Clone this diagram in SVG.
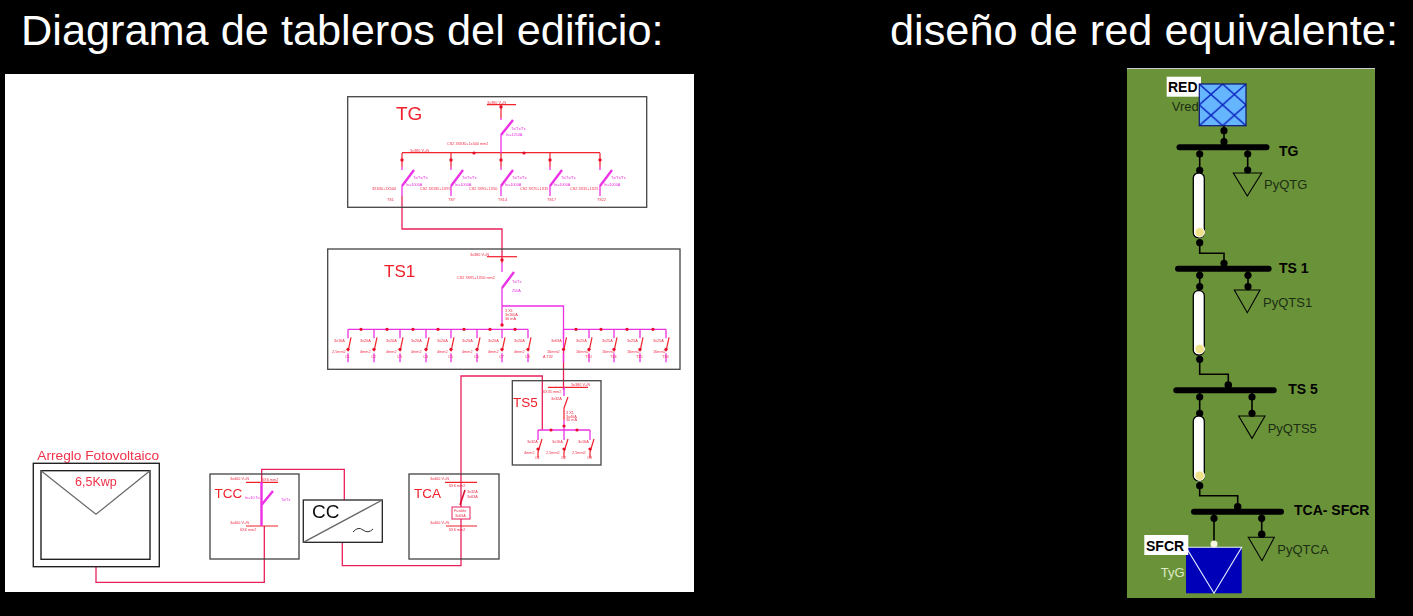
<svg xmlns="http://www.w3.org/2000/svg" width="1413" height="616" viewBox="0 0 1413 616">
<style>
text{font-family:"Liberation Sans",Arial,sans-serif}
.title{font-size:43.300px;fill:#fff}
.sch{filter:url(#soft)}
.box{fill:none;stroke:#444;stroke-width:1.300}
.kbox{fill:none;stroke:#222;stroke-width:1.400}
.r{fill:none;stroke:#f0202c;stroke-width:1.200}
.m{fill:none;stroke:#ec30e4;stroke-width:1.300}
.mt{fill:none;stroke:#ec30e4;stroke-width:2.400}
.w{fill:none;stroke:#e8205a;stroke-width:1.300}
.blob{fill:#e8102c}
.s{font-size:3.800px;fill:#f0304a}
.sm{font-size:3.800px;fill:#e830e0}
.k{fill:none;stroke:#000;stroke-width:1.600}
.bus{stroke:#000;stroke-width:6;stroke-linecap:round;fill:none}
.d{fill:#000}
.tri{fill:none;stroke:#000;stroke-width:1.100}
.cable{fill:#fff;stroke:#000;stroke-width:1.300}
.y{fill:#efe08a;stroke:#fff;stroke-width:1}
.lbl{font-size:14px;font-weight:700;fill:#000}
.load{font-size:13px;fill:#1c2e12}
</style>
<defs>
<filter id="soft" x="-5%" y="-5%" width="110%" height="110%"><feGaussianBlur stdDeviation="0.35"/></filter>
<g id="tgbrk">
<path class="r" d="M0 0V14"/><circle class="blob" cx="0" cy="7" r="1.700"/>
<path class="m" d="M0 14V17M0 33V43"/><path class="mt" d="M0 33L12 17"/>
<text class="sm" x="11" y="26">Tx/Tx/Tx</text><text class="sm" x="4" y="33">In=1000A</text>
</g>
<g id="lvbrk">
<path class="m" d="M0 0V9M0 24V33"/><path class="r" d="M0 22L3 8"/><circle class="blob" cx="0" cy="20" r="1.600"/>
</g>
<pattern id="hatch" width="23.350" height="20.850" patternUnits="userSpaceOnUse" x="1199.300" y="84">
<rect width="23.350" height="20.850" fill="#66b5ff"/>
<path d="M0 0L23.350 20.850M23.350 0L0 20.850" stroke="#0a22c0" stroke-width="1.400"/>
</pattern>
</defs>
<rect width="1413" height="616" fill="#000"/>
<text class="title" x="21" y="45">Diagrama de tableros del edificio:</text>
<text class="title" x="890" y="45">diseño de red equivalente:</text>
<rect x="5" y="74" width="689" height="518" fill="#fff"/>
<rect x="1127" y="68" width="248" height="530" fill="#6a9339"/>
<path d="M1127 68.500H1375" stroke="#ccc" stroke-width="1"/>

<g id="connectors">
<path class="w" d="M402 196V229H502V263"/>
<path class="m" d="M502 288V326M502 306H563.500V352"/>
<path class="w" d="M563.500 352V390"/>
<path class="w" d="M542.300 430V376H461V565.700H342.300V542.300"/>
<path class="w" d="M344.300 500V469.300H261.700V482"/>
<path class="w" d="M96 567V582.300H264.300V526"/>
<path class="k" d="M1199.700 243V253.300H1224V264"/>
<path class="k" d="M1199.700 359.300V374.300H1228.300V385"/>
<path class="k" d="M1199.700 485.700V495.700H1237.700V507"/>
</g>

<g id="TG" class="sch">
<rect class="box" x="347.700" y="96.700" width="299" height="110.600"/>
<text x="396" y="120" font-size="19" fill="#f0202c">TG</text>
<text class="s" x="487" y="103.500">3x380 V+N</text>
<path class="r" d="M487 104.700H516M501 104.700V118M402 152.700H600"/>
<circle class="blob" cx="501" cy="107" r="1.700"/>
<circle class="blob" cx="474" cy="153" r="1.600"/><circle class="blob" cx="524" cy="153" r="1.600"/>
<path class="m" d="M501 118V120M501 135V153"/><path class="mt" d="M501 135L513 120"/>
<text class="sm" x="511" y="130">Tx/Tx/Tx</text><text class="sm" x="506" y="136">In=1250A</text>
<text class="s" x="447" y="145">CS2 3X630+1x500 mm2</text>
<text class="s" x="410" y="152">3x380 V+N</text>
<use href="#tgbrk" x="402" y="153"/><use href="#tgbrk" x="451" y="153"/><use href="#tgbrk" x="501" y="153"/><use href="#tgbrk" x="550" y="153"/><use href="#tgbrk" x="600" y="153"/>
<text class="s" x="372" y="190">3X630+1X500</text><text class="s" x="420" y="190">CS2 3X185+1X95</text><text class="s" x="469" y="190">CS2 3X95+1X50</text><text class="s" x="520" y="190">CS2 3X70+1X35</text><text class="s" x="570" y="190">CS2 3X35+1X25</text>
<text class="s" x="387" y="201">TS1</text><text class="s" x="448" y="201">TS7</text><text class="s" x="498" y="201">TS14</text><text class="s" x="547" y="201">TS17</text><text class="s" x="597" y="201">TS22</text>
</g>

<g id="TS1" class="sch">
<rect class="box" x="327.700" y="249" width="352.300" height="120.300"/>
<text x="384" y="277" font-size="17" fill="#f0202c">TS1</text>
<text class="s" x="470" y="255.500">3x380 V+N</text>
<path class="r" d="M487 256.700H517"/><circle class="blob" cx="502" cy="260" r="1.700"/>
<path class="mt" d="M502 288L514 272"/><path class="m" d="M502 263V272"/>
<text class="s" x="457" y="279">CS2 3X95+1X50 mm2</text><text class="sm" x="512" y="283">Tx/Tx</text><text class="sm" x="512" y="292">250A</text>
<text class="s" x="505" y="312">3 X1</text><text class="s" x="505" y="316">3x160A</text><text class="s" x="505" y="320">30 mA</text>
<circle class="blob" cx="502" cy="325" r="1.700"/>
<path class="m" d="M348 329.300H528M563.500 329.300H666"/>
<g class="blob"><circle cx="361" cy="329.300" r="1.600"/><circle cx="387" cy="329.300" r="1.600"/><circle cx="413" cy="329.300" r="1.600"/><circle cx="438" cy="329.300" r="1.600"/><circle cx="464" cy="329.300" r="1.600"/><circle cx="490" cy="329.300" r="1.600"/><circle cx="515" cy="329.300" r="1.600"/><circle cx="576" cy="329.300" r="1.600"/><circle cx="601" cy="329.300" r="1.600"/><circle cx="627" cy="329.300" r="1.600"/><circle cx="653" cy="329.300" r="1.600"/></g>
<use href="#lvbrk" x="348" y="329.300"/><use href="#lvbrk" x="374" y="329.300"/><use href="#lvbrk" x="400" y="329.300"/><use href="#lvbrk" x="426" y="329.300"/><use href="#lvbrk" x="451" y="329.300"/><use href="#lvbrk" x="477" y="329.300"/><use href="#lvbrk" x="502" y="329.300"/><use href="#lvbrk" x="528" y="329.300"/><use href="#lvbrk" x="563.500" y="329.300"/><use href="#lvbrk" x="589" y="329.300"/><use href="#lvbrk" x="614" y="329.300"/><use href="#lvbrk" x="640" y="329.300"/><use href="#lvbrk" x="666" y="329.300"/>
<text class="s" x="334" y="342">3x16A</text><text class="s" x="360" y="342">3x20A</text><text class="s" x="386" y="342">3x20A</text><text class="s" x="411" y="342">3x20A</text><text class="s" x="437" y="342">3x20A</text><text class="s" x="462" y="342">3x20A</text><text class="s" x="488" y="342">3x20A</text><text class="s" x="514" y="342">3x20A</text><text class="s" x="551" y="342">3x63A</text><text class="s" x="576" y="342">3x25A</text><text class="s" x="602" y="342">3x25A</text><text class="s" x="627" y="342">3x25A</text><text class="s" x="653" y="342">3x25A</text>
<text class="s" x="332" y="353">2,5mm2</text><text class="s" x="360" y="353">4mm2</text><text class="s" x="386" y="353">4mm2</text><text class="s" x="411" y="353">4mm2</text><text class="s" x="437" y="353">4mm2</text><text class="s" x="462" y="353">4mm2</text><text class="s" x="488" y="353">4mm2</text><text class="s" x="514" y="353">4mm2</text><text class="s" x="547" y="353">16mm2</text><text class="s" x="576" y="353">16mm2</text><text class="s" x="602" y="353">16mm2</text><text class="s" x="627" y="353">16mm2</text><text class="s" x="653" y="353">16mm2</text>
<text class="s" x="345" y="358">C1</text><text class="s" x="371" y="358">C2</text><text class="s" x="397" y="358">C3</text><text class="s" x="423" y="358">C4</text><text class="s" x="448" y="358">C5</text><text class="s" x="474" y="358">C6</text><text class="s" x="499" y="358">C7</text><text class="s" x="525" y="358">C8</text><text class="s" x="543" y="358">A T32</text><text class="s" x="585" y="358">T30</text><text class="s" x="610" y="358">T34</text><text class="s" x="636" y="358">T35</text><text class="s" x="662" y="358">T36</text>
</g>

<g id="TS5" class="sch">
<rect class="box" x="512.300" y="380.700" width="88.700" height="84.300"/>
<text x="513" y="406.700" font-size="13.500" fill="#f0202c">TS5</text>
<path class="r" d="M548 387.300H588"/>
<text class="s" x="571" y="386">3x380 V+N</text><text class="s" x="543" y="393">6X35 mm2</text>
<path class="m" d="M564 387V396M564 420V430M538 430H590M564 430V440M538 430V440M590 430V440"/>
<path class="r" d="M564 408L568 397M564 408V420"/><circle class="blob" cx="564" cy="426" r="1.600"/>
<circle class="blob" cx="551" cy="430" r="1.600"/><circle class="blob" cx="577" cy="430" r="1.600"/>
<text class="s" x="551" y="400">3x32A</text><text class="s" x="566" y="414">3 X1</text><text class="s" x="566" y="417.500">3x40A</text><text class="s" x="566" y="421">30 mA</text>
<path class="r" d="M538 452L542 439M538 452V458M564 452L568 439M564 452V458M590 452L594 439M590 452V458"/>
<circle class="blob" cx="538" cy="449" r="1.600"/><circle class="blob" cx="564" cy="449" r="1.600"/><circle class="blob" cx="590" cy="449" r="1.600"/>
<text class="s" x="527" y="443">3x32A</text><text class="s" x="552" y="443">3x16A</text><text class="s" x="578" y="443">3x16A</text>
<text class="s" x="524" y="454">4mm2</text><text class="s" x="546" y="454">2,5mm2</text><text class="s" x="572" y="454">2,5mm2</text>
<text class="s" x="535" y="459">C1</text><text class="s" x="561" y="459">C2</text><text class="s" x="587" y="459">C3</text>
</g>

<g id="TCC" class="sch">
<rect class="box" x="210" y="474" width="89" height="85"/>
<text x="214.500" y="498" font-size="13.500" fill="#f0202c">TCC</text>
<path class="r" d="M246 482.300H278M246 526H278"/>
<text class="s" x="230" y="480">3x400 V+N</text><text class="s" x="262" y="481">6X6 mm2</text>
<text class="s" x="230" y="524">3x400 V+N</text><text class="s" x="240" y="531">6X6 mm2</text>
<path class="mt" d="M261.500 482V505M261.500 505L273 491M261.500 505V526"/>
<text class="sm" x="245" y="499">In=10 To</text><text class="sm" x="281" y="501">Tx/Tx</text>
</g>

<g id="CC" class="sch">
<rect x="303.300" y="500" width="79" height="42.300" fill="#fff" stroke="#222" stroke-width="1.300"/>
<path d="M303.300 542.300L382.300 500" stroke="#666" stroke-width="1.400"/>
<text x="312" y="518" font-size="19" fill="#111">CC</text>
<path d="M353 532Q358 526 363 530T373 529" fill="none" stroke="#333" stroke-width="1"/>
</g>

<g id="TCA" class="sch">
<rect class="box" x="409" y="474" width="90" height="85"/>
<text x="414" y="498" font-size="13.500" fill="#f0202c">TCA</text>
<path class="r" d="M445 482.300H477M446 526H477"/>
<text class="s" x="430" y="480">3x400 V+N</text><text class="s" x="449" y="487">6X6 mm2</text>
<text class="s" x="430" y="524">3x400 V+N</text><text class="s" x="449" y="531">6X6 mm2</text>
<path d="M460 505L465 490" fill="none" stroke="#e01030" stroke-width="1.600"/>
<rect x="452" y="507" width="18" height="12" fill="#fff" stroke="#e8205a" stroke-width="1"/>
<text class="s" x="454" y="512">Fusible</text><text class="s" x="455" y="517">3x63A</text>
<text class="s" x="467" y="493">3x32A</text><text class="s" x="467" y="498">3x63A</text>
</g>

<g id="Arreglo" class="sch">
<text x="37.300" y="460" font-size="13.700" fill="#f0304a">Arreglo Fotovoltaico</text>
<rect class="kbox" x="33.300" y="463.300" width="126" height="103.400"/>
<rect class="kbox" x="41" y="470.700" width="109" height="88.600"/>
<path d="M41 470.700L96 514.300L150 470.700" fill="none" stroke="#666" stroke-width="1.200"/>
<text x="75" y="486" font-size="12.500" fill="#f0304a">6,5Kwp</text>
</g>

<g id="RED">
<rect x="1166.700" y="76.700" width="34.300" height="20" fill="#fff"/>
<text class="lbl" x="1168" y="92.300">RED</text>
<text class="load" x="1171.700" y="111" font-size="12">Vred</text>
<rect x="1199.300" y="84" width="46.700" height="41.700" fill="url(#hatch)" stroke="#0a1478" stroke-width="1.200"/>
<path class="k" d="M1224 126V142"/><circle class="d" cx="1224" cy="130.700" r="3.600"/><circle class="d" cx="1224" cy="141.700" r="3.600"/>
</g>

<g id="busTG">
<path class="bus" d="M1179.500 147.300H1266.500"/>
<text class="lbl" x="1279" y="156">TG</text>
<path class="k" d="M1199.700 150V170M1247.700 150V170"/>
<circle class="d" cx="1199.700" cy="154" r="3.600"/><circle class="d" cx="1199.700" cy="170.300" r="3.600"/><circle class="d" cx="1247.700" cy="154" r="3.600"/><circle class="d" cx="1247.700" cy="170" r="3.600"/>
<path class="tri" d="M1233.300 173H1261.700L1247.300 196Z"/>
<text class="load" x="1264" y="189">PyQTG</text>
<rect class="cable" x="1193.300" y="173" width="11" height="64.700" rx="5"/>
<circle class="y" cx="1199.700" cy="232.300" r="4.800"/><circle class="d" cx="1199.700" cy="242.700" r="3.600"/>
</g>

<g id="busTS1">
<path class="bus" d="M1178 268.700H1268.700"/><circle class="d" cx="1224" cy="263.300" r="3.600"/>
<text class="lbl" x="1279" y="272.700">TS 1</text>
<path class="k" d="M1199.700 270V287M1248 270V287"/>
<circle class="d" cx="1199.700" cy="275.300" r="3.600"/><circle class="d" cx="1199.700" cy="286.700" r="3.600"/><circle class="d" cx="1248" cy="275.300" r="3.600"/><circle class="d" cx="1248" cy="286.700" r="3.600"/>
<path class="tri" d="M1234.300 290H1260L1247.300 312.700Z"/>
<text class="load" x="1263" y="307.300">PyQTS1</text>
<rect class="cable" x="1193.300" y="290.700" width="11" height="64.300" rx="5"/>
<circle class="y" cx="1199.700" cy="349" r="4.800"/><circle class="d" cx="1199.700" cy="359.300" r="3.600"/>
</g>

<g id="busTS5">
<path class="bus" d="M1176.300 390.300H1273.700"/><circle class="d" cx="1228.300" cy="385" r="3.800"/>
<text class="lbl" x="1288.300" y="394">TS 5</text>
<path class="k" d="M1199.700 392V413M1252 392V413"/>
<circle class="d" cx="1199.700" cy="397" r="3.600"/><circle class="d" cx="1199.700" cy="413.300" r="3.600"/><circle class="d" cx="1252" cy="397" r="3.600"/><circle class="d" cx="1252" cy="413.300" r="3.600"/>
<path class="tri" d="M1238.700 416H1265L1252 438.300Z"/>
<text class="load" x="1267.700" y="433.300">PyQTS5</text>
<rect class="cable" x="1193.300" y="416" width="11" height="64.700" rx="5"/>
<circle class="y" cx="1199.700" cy="475.700" r="4.800"/><circle class="d" cx="1199.700" cy="485.700" r="3.600"/>
</g>

<g id="busTCA">
<path class="bus" d="M1194 511.700H1281"/><circle class="d" cx="1237.700" cy="506.700" r="3.800"/>
<text class="lbl" x="1294" y="515">TCA- SFCR</text>
<path class="k" d="M1214 513V544M1261.700 513V534"/>
<circle class="d" cx="1214" cy="518.300" r="3.600"/><circle class="d" cx="1261.700" cy="518.300" r="3.600"/><circle class="d" cx="1261.700" cy="534.300" r="3.800"/>
<path class="tri" d="M1248.300 537.300H1274.300L1262 560.700Z"/>
<text class="load" x="1277.300" y="554">PyQTCA</text>
</g>

<g id="SFCR">
<rect x="1186" y="547.300" width="55.700" height="46" fill="#0000b8"/>
<path d="M1186 547.300H1241.700L1214 593.300Z" fill="none" stroke="#e8f0ff" stroke-width="1.100"/>
<circle cx="1214" cy="544" r="3.500" fill="#f4f4e0"/>
<rect x="1144.300" y="535" width="44" height="20" fill="#fff"/>
<text class="lbl" x="1146" y="550.700">SFCR</text>
<text x="1160.700" y="576.700" font-size="13" fill="#dcebc4">TyG</text>
</g>
</svg>
